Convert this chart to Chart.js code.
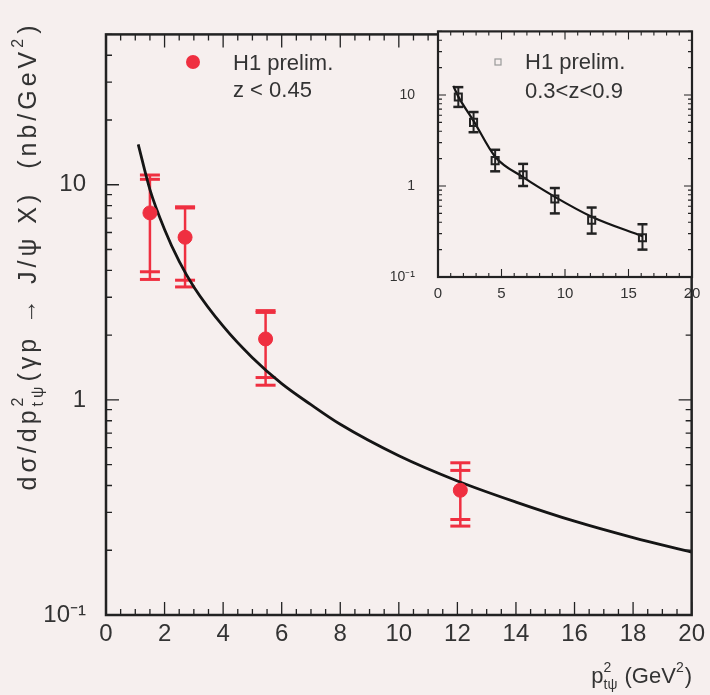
<!DOCTYPE html>
<html><head><meta charset="utf-8">
<script src="https://cdn.jsdelivr.net/npm/chart.js@4.4.1/dist/chart.umd.min.js"></script>
<style>
html,body{margin:0;padding:0;background:#f6efee;}
#wrap{position:relative;width:710px;height:695px;overflow:hidden;}
#main{position:absolute;left:0;top:0;}
#inset{position:absolute;left:380px;top:0;}
</style></head><body>
<div id="wrap"><canvas id="main" width="710" height="695"></canvas><canvas id="inset" width="330" height="310"></canvas></div>
<script>
// ---------- data: main panel (z < 0.45) ----------
const mainX      = [1.5, 2.7, 5.45, 12.1];
const mainY      = [7.4, 5.7, 1.92, 0.38];
const mainStatHi = [10.6, 7.8, 2.55, 0.47];
const mainTotHi  = [11.1, 7.9, 2.6, 0.51];
const mainStatLo = [3.94, 3.6, 1.27, 0.278];
const mainTotLo  = [3.63, 3.35, 1.17, 0.259];
// theory curve, main panel
const curveX = [1.1, 1.5, 2.0, 2.5, 3.0, 4.0, 5.0, 6.0, 7.0, 8.0, 10.0, 12.0, 14.0, 16.0, 18.0, 20.0];
const curveY = [15.4, 9.5, 6.2, 4.4, 3.35, 2.2, 1.57, 1.19, 0.95, 0.77, 0.55, 0.42, 0.335, 0.273, 0.229, 0.196];
// ---------- data: inset (0.3 < z < 0.9) ----------
const insetX  = [1.6, 2.8, 4.5, 6.7, 9.2, 12.1, 16.1];
const insetY  = [9.5, 5.0, 1.9, 1.33, 0.72, 0.42, 0.27];
const insetHi = [12.2, 6.5, 2.5, 1.75, 0.95, 0.58, 0.38];
const insetLo = [7.4, 3.9, 1.45, 1.0, 0.5, 0.30, 0.20];
const insetCurveX = [1.2, 1.6, 2.8, 4.5, 6.7, 9.2, 12.1, 16.1];
const insetCurveY = [12.6, 9.6, 5.2, 2.1, 1.25, 0.76, 0.46, 0.28];
// ---------- ticks ----------
const mainXTicks  = [0, 2, 4, 6, 8, 10, 12, 14, 16, 18, 20];
const insetXTicks = [0, 5, 10, 15, 20];
const yTicks      = [0.1, 1, 10];
const yTickLabels = ['10\u207B\u00B9', '1', '10'];

const BG = '#f6efee', INK = '#333', RED = '#ef2f40', FONT = '"Liberation Sans", Arial, sans-serif';

function richWidth(ctx, segs, fs) {
  let w = 0;
  for (const s of segs) {
    if (s.t !== undefined) { ctx.font = fs + 'px ' + FONT; w += ctx.measureText(s.t).width; }
    else { ctx.font = Math.round(fs * 0.62) + 'px ' + FONT;
      w += Math.max(s.sup ? ctx.measureText(s.sup).width : 0, s.sub ? ctx.measureText(s.sub).width : 0) + 1; }
  }
  return w;
}
function drawRich(ctx, segs, x, y, fs) { // x = left, y = middle
  ctx.textBaseline = 'middle'; ctx.textAlign = 'left';
  for (const s of segs) {
    if (s.t !== undefined) { ctx.font = fs + 'px ' + FONT; ctx.fillText(s.t, x, y); x += ctx.measureText(s.t).width; }
    else {
      const sf = Math.round(fs * 0.62); ctx.font = sf + 'px ' + FONT;
      let w = 0;
      if (s.sup) { ctx.fillText(s.sup, x, y - fs * 0.42); w = Math.max(w, ctx.measureText(s.sup).width); }
      if (s.sub) { ctx.fillText(s.sub, x, y + fs * 0.38); w = Math.max(w, ctx.measureText(s.sub).width); }
      x += w + 1;
    }
  }
}

const deco = {
  id: 'deco',
  beforeDraw(chart, args, o) {
    const a = chart.chartArea, c = chart.ctx;
    c.save(); c.fillStyle = BG;
    if (o.fillAll) c.fillRect(0, 0, chart.width, chart.height);
    else c.fillRect(a.left, a.top, a.right - a.left, a.bottom - a.top);
    c.restore();
  },
  beforeDatasetsDraw(chart, args, o) {
    const c = chart.ctx, xs = chart.scales.x, ys = chart.scales.y;
    c.save();
    c.strokeStyle = o.errColor; c.lineCap = 'butt';
    o.err.x.forEach((xv, i) => {
      const px = xs.getPixelForValue(xv);
      c.lineWidth = o.errWidth;
      const lo = Math.min(...o.err.lo.map(a => a[i])), hi = Math.max(...o.err.hi.map(a => a[i]));
      c.beginPath(); c.moveTo(px, ys.getPixelForValue(lo)); c.lineTo(px, ys.getPixelForValue(hi)); c.stroke();
      c.lineWidth = o.capWidth;
      [...o.err.lo, ...o.err.hi].forEach(arr => {
        const py = ys.getPixelForValue(arr[i]);
        c.beginPath(); c.moveTo(px - o.capHalf, py); c.lineTo(px + o.capHalf, py); c.stroke();
      });
    });
    c.restore();
  },
  afterDraw(chart, args, o) {
    const a = chart.chartArea, c = chart.ctx, xs = chart.scales.x, ys = chart.scales.y;
    c.save();
    c.strokeStyle = '#222';
    c.lineWidth = o.tickWidth;
    for (let v = 0; v <= 20.001; v += o.xMinorStep) {
      const px = xs.getPixelForValue(v);
      const major = Math.abs(v / o.xMajorStep - Math.round(v / o.xMajorStep)) < 1e-6;
      const L = major ? o.majorLen : o.minorLen;
      c.beginPath(); c.moveTo(px, a.bottom); c.lineTo(px, a.bottom - L);
      c.moveTo(px, a.top); c.lineTo(px, a.top + L); c.stroke();
    }
    for (const dec of [0.1, 1, 10]) {
      for (let m = 1; m <= 9; m++) {
        const v = dec * m; if (v > ys.max) break;
        const py = ys.getPixelForValue(v);
        const L = m === 1 ? o.majorLen : o.minorLen;
        c.beginPath(); c.moveTo(a.left, py); c.lineTo(a.left + L, py);
        c.moveTo(a.right, py); c.lineTo(a.right - L, py); c.stroke();
      }
    }
    c.lineWidth = o.frameWidth;
    c.strokeRect(a.left, a.top, a.right - a.left, a.bottom - a.top);
    // legend text
    c.fillStyle = INK; c.font = o.legendFont + 'px ' + FONT; c.textBaseline = 'middle'; c.textAlign = 'left';
    o.legend.lines.forEach((t, i) => c.fillText(t, o.legend.x, o.legend.y + i * o.legend.dy));
    if (o.legend.marker === 'dot') {
      c.fillStyle = RED; c.beginPath(); c.arc(o.legend.mx, o.legend.my, 7, 0, Math.PI * 2); c.fill();
    } else {
      c.strokeStyle = '#999'; c.lineWidth = 1.2; c.strokeRect(o.legend.mx - 3, o.legend.my - 3, 6, 6);
    }
    // axis titles (main only)
    if (o.titles) {
      c.fillStyle = INK;
      const ySegs = [{t: 'd\u03C3/dp'}, {sup: '2', sub: 't\u03C8'}, {t: '(\u03B3p \u2192 J/\u03C8 X)  (nb/GeV'}, {sup: '2'}, {t: ')'}];
      const fs = 25;
      c.letterSpacing = '0px'; const w0 = richWidth(c, ySegs, fs);
      c.letterSpacing = '1px'; const w1 = richWidth(c, ySegs, fs);
      const slope = Math.max(1, w1 - w0);
      c.letterSpacing = Math.min(4, Math.max(0, (483 - w0) / slope)).toFixed(2) + 'px';
      const w = richWidth(c, ySegs, fs);
      c.save(); c.translate(29, 256); c.rotate(-Math.PI / 2);
      drawRich(c, ySegs, -w / 2, 0, fs); c.restore();
      c.letterSpacing = '0px';
      const xSegs = [{t: 'p'}, {sup: '2', sub: 't\u03C8'}, {t: ' (GeV'}, {sup: '2'}, {t: ')'}];
      const wx = richWidth(c, xSegs, 22);
      drawRich(c, xSegs, 692 - wx, 677, 22);
    }
    c.restore();
  }
};

function yScale(width, fontSize, pad) {
  return {
    type: 'logarithmic', min: 0.1, max: 50,
    afterFit: s => { s.width = width; },
    afterBuildTicks: s => { s.ticks = yTicks.map(v => ({value: v})); },
    ticks: { autoSkip: false, padding: pad, color: INK, font: {family: FONT, size: fontSize},
             callback: (v) => { const i = yTicks.findIndex(t => Math.abs(t - v) < 1e-9); return i >= 0 ? yTickLabels[i] : ''; } },
    grid: { display: false, drawTicks: false }, border: { display: false }
  };
}
function xScale(height, ticksArr, fontSize, pad) {
  return {
    type: 'linear', min: 0, max: 20,
    afterFit: s => { s.height = height; },
    afterBuildTicks: s => { s.ticks = ticksArr.map(v => ({value: v})); },
    ticks: { autoSkip: false, maxRotation: 0, padding: pad, color: INK, font: {family: FONT, size: fontSize} },
    grid: { display: false, drawTicks: false }, border: { display: false }
  };
}

Chart.register(deco);

new Chart(document.getElementById('main'), {
  type: 'scatter',
  data: { datasets: [
    { label: 'H1 prelim. z < 0.45', data: mainX.map((x, i) => ({x, y: mainY[i]})),
      backgroundColor: RED, borderColor: RED, pointRadius: 7, pointHoverRadius: 7, order: 0 },
    { label: 'theory', data: curveX.map((x, i) => ({x, y: curveY[i]})), showLine: true,
      cubicInterpolationMode: 'monotone', borderColor: '#151515', borderWidth: 2.8, pointRadius: 0, order: 1 }
  ]},
  options: {
    responsive: false, animation: false, events: [],
    layout: { padding: { left: 0, top: 13, right: 17, bottom: 0 } },
    scales: { x: xScale(80, mainXTicks, 24, 5), y: yScale(106, 24, 20) },
    plugins: {
      legend: { display: false }, tooltip: { enabled: false },
      deco: {
        fillAll: true, titles: true,
        err: { x: mainX, lo: [mainStatLo, mainTotLo], hi: [mainStatHi, mainTotHi] },
        errColor: RED, errWidth: 2.5, capWidth: 3, capHalf: 10,
        xMinorStep: 0.5, xMajorStep: 2, majorLen: 13, minorLen: 6, tickWidth: 1.3, frameWidth: 2.5,
        legendFont: 22, legend: { lines: ['H1 prelim.', 'z < 0.45'], x: 233, y: 64, dy: 27, marker: 'dot', mx: 193, my: 62 }
      }
    }
  }
});

new Chart(document.getElementById('inset'), {
  type: 'scatter',
  data: { datasets: [
    { label: 'H1 prelim. 0.3<z<0.9', data: insetX.map((x, i) => ({x, y: insetY[i]})),
      pointStyle: 'rect', backgroundColor: 'rgba(0,0,0,0)', borderColor: '#222', borderWidth: 2,
      pointRadius: 5, pointHoverRadius: 5, order: 0 },
    { label: 'theory', data: insetCurveX.map((x, i) => ({x, y: insetCurveY[i]})), showLine: true,
      cubicInterpolationMode: 'monotone', borderColor: '#151515', borderWidth: 2.2, pointRadius: 0, order: 1 }
  ]},
  options: {
    responsive: false, animation: false, events: [],
    layout: { padding: { left: 0, top: 15, right: 18, bottom: 0 } },
    scales: { x: xScale(33, insetXTicks, 15, 8), y: yScale(58, 14, 23) },
    plugins: {
      legend: { display: false }, tooltip: { enabled: false },
      deco: {
        fillAll: false, titles: false,
        err: { x: insetX, lo: [insetLo], hi: [insetHi] },
        errColor: '#222', errWidth: 2, capWidth: 2.5, capHalf: 5,
        xMinorStep: 1, xMajorStep: 5, majorLen: 8, minorLen: 4, tickWidth: 1.1, frameWidth: 2.2,
        legendFont: 22, legend: { lines: ['H1 prelim.', '0.3<z<0.9'], x: 145, y: 63, dy: 29, marker: 'sq', mx: 118, my: 62 }
      }
    }
  }
});
</script>
</body></html>
